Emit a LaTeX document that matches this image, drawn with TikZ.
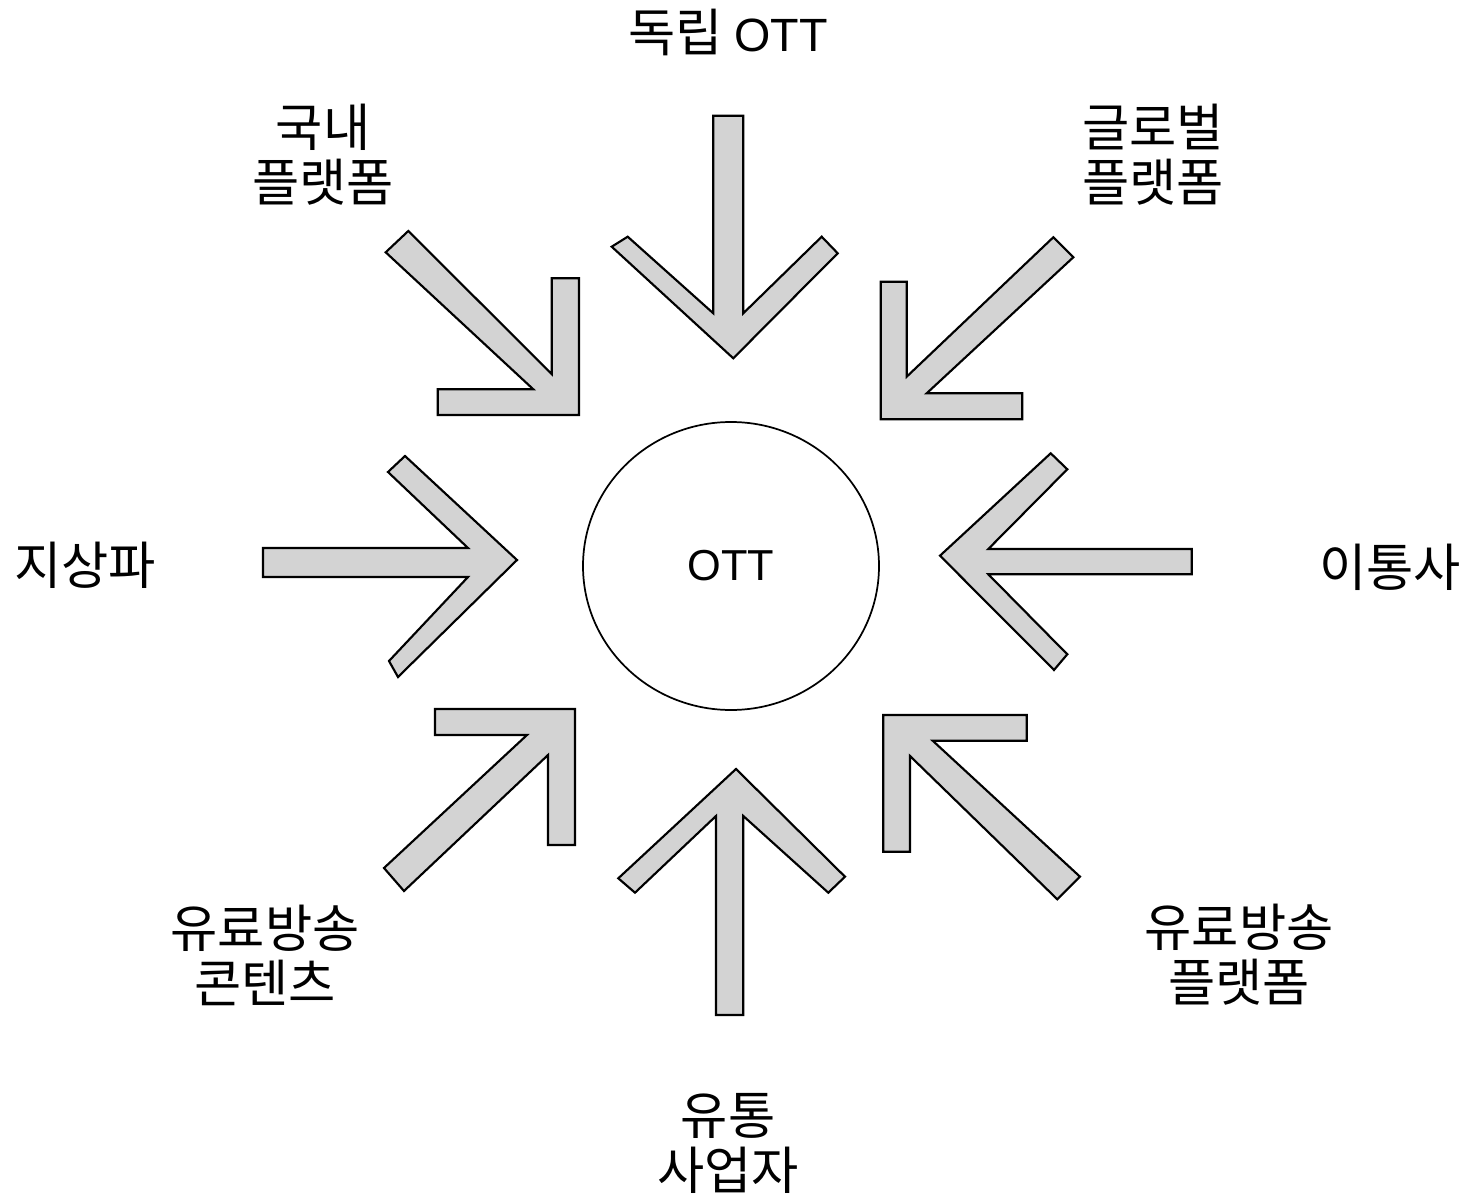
\documentclass[tikz,border=0pt]{standalone}
\usepackage{fontspec}
\setmainfont{Liberation Sans}
\newfontfamily\cjk{Noto Sans CJK KR}
\usetikzlibrary{shapes.geometric}
\definecolor{arrowgray}{RGB}{211,211,211}
\tikzset{
  arrowshape/.style={draw=black, fill=arrowgray, line width=1.6pt, line join=miter},
  lbl/.style={align=center, inner sep=0pt, font=\cjk\fontsize{38.5}{41.25}\selectfont},
  hub/.style={draw=black, line width=1.3pt, ellipse, minimum width=222pt, minimum height=216pt, inner sep=0pt, font=\fontsize{32.5}{38}\selectfont}
}
\begin{document}
\begin{tikzpicture}[x=0.75pt, y=-0.75pt]
\useasboundingbox (0,0) rectangle (1465,1198);

% central circle
\node[hub] (ott) at (731,566) {OTT};

% 지상파 (left, pointing right)
\draw[arrowshape] (263,548) -- (468,548) -- (388,472) -- (405,456) -- (517,560)
  -- (398,677) -- (389,661) -- (468,577) -- (263,577) -- cycle;

% 독립 OTT (top, pointing down)
\draw[arrowshape] (713.3,115.7) -- (743.3,115.7) -- (743.3,313.3) -- (821.7,236.7)
  -- (837.7,253.3) -- (733.3,358.3) -- (611.7,246.7) -- (627.7,236.7)
  -- (713.3,313.3) -- cycle;

% 국내 플랫폼 (top-left, pointing down-right)
\draw[arrowshape] (408.3,231) -- (551.7,374) -- (551.7,278.3) -- (579,278.3)
  -- (579,415) -- (437.7,415) -- (437.7,389.3) -- (533.3,389.3)
  -- (385.7,252.3) -- cycle;

% 글로벌 플랫폼 (top-right, pointing down-left)
\draw[arrowshape] (1053.3,237.3) -- (906.7,376.7) -- (906.7,281.7) -- (880.7,281.7)
  -- (880.7,419.3) -- (1022.3,419.3) -- (1022.3,393.3) -- (926.7,393.3)
  -- (1073.3,257.3) -- cycle;

% 이통사 (right, pointing left)
\draw[arrowshape] (1191.7,549) -- (988.3,549) -- (1067.3,469.3) -- (1050.7,453.3)
  -- (940,555.7) -- (1054,670) -- (1067.3,654.3) -- (988.3,574.3)
  -- (1191.7,574.3) -- cycle;

% 유료방송 콘텐츠 (bottom-left, pointing up-right)
\draw[arrowshape] (575,709) -- (435,709) -- (435,735) -- (527,735) -- (384,868)
  -- (404,891) -- (548,755) -- (548,845) -- (575,845) -- cycle;

% 유통 사업자 (bottom, pointing up)
\draw[arrowshape] (736,769) -- (845,876.7) -- (828.3,892.7) -- (743.3,816)
  -- (743.3,1015) -- (716,1015) -- (716,816) -- (635,892.7) -- (618.3,878.3) -- cycle;

% 유료방송 플랫폼 (bottom-right, pointing up-left)
\draw[arrowshape] (883.3,715) -- (1026.7,715) -- (1026.7,740.7) -- (932.7,740.7)
  -- (1080,876.7) -- (1057.3,899.3) -- (910,756) -- (910,851.7) -- (883.3,851.7) -- cycle;

% labels
\node[lbl] (tdoklip) at (728,32) {독립 {\fontspec{Liberation Sans}\fontsize{35}{41.25}\selectfont OTT}};
\node[lbl] (tkuknae) at (323,155) {국내\\플랫폼};
\node[lbl] (tglobal) at (1153,155) {글로벌\\플랫폼};
\node[lbl] (tjisang) at (85,565) {지상파};
\node[lbl] (titong) at (1390,567) {이통사};
\node[lbl] (tcontent) at (265,955) {유료방송\\콘텐츠};
\node[lbl] (tplatform) at (1239,955) {유료방송\\플랫폼};
\node[lbl] (tyutong) at (728,1143) {유통\\사업자};
\end{tikzpicture}
\end{document}
